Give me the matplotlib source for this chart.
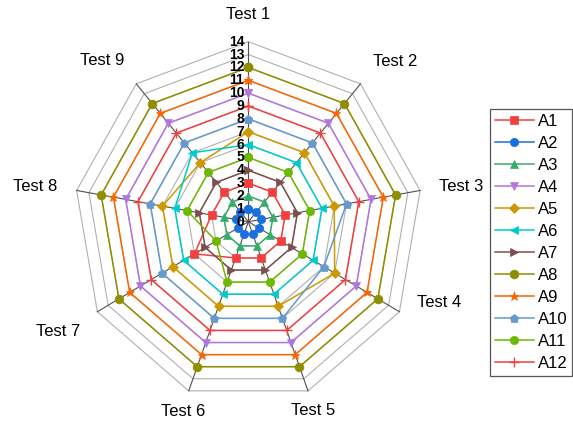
import numpy as np
import matplotlib
matplotlib.use('Agg')
import matplotlib.pyplot as plt

plt.rcParams['font.family'] = ['Liberation Sans', 'DejaVu Sans']

# axis names, clockwise from the top
tests = ['Test 1', 'Test 2', 'Test 3', 'Test 4', 'Test 5',
         'Test 6', 'Test 7', 'Test 8', 'Test 9']

# score of each sample on Test 1..Test 9
A1 = [3, 3, 3, 3, 3, 3, 5, 3, 3]
A2 = [1, 1, 1, 1, 1, 1, 1, 1, 1]
A3 = [2, 2, 2, 2, 2, 2, 2, 2, 2]
A4 = [10, 10, 10, 10, 10, 10, 10, 10, 10]
A5 = [7, 7, 7, 8, 7, 7, 7, 7, 6]
A6 = [6, 6, 6, 6, 6, 6, 6, 6, 7]
A7 = [4, 4, 4, 4, 4, 4, 4, 4, 4]
A8 = [12, 12, 12, 12, 12, 12, 12, 12, 12]
A9 = [11, 11, 11, 11, 11, 11, 11, 11, 11]
A10 = [8, 8, 8, 7, 8, 8, 8, 8, 8]
A11 = [5, 5, 5, 5, 5, 5, 3, 5, 5]
A12 = [9, 9, 9, 9, 9, 9, 9, 9, 9]

series_names = ['A1', 'A2', 'A3', 'A4', 'A5', 'A6',
                'A7', 'A8', 'A9', 'A10', 'A11', 'A12']
series_values = [A1, A2, A3, A4, A5, A6, A7, A8, A9, A10, A11, A12]

# radial scale
r_ticks = list(range(0, 15))
r_max = 14

colors = ['#F14040', '#1A6FDF', '#37AD6B', '#B177DE', '#CC9900', '#00CBCC',
          '#7D4E4E', '#8E8E00', '#FB6501', '#6699CC', '#6FB802', '#F14040']
markers = ['s', 'o', '^', 'v', 'D', '<', '>', 'o', '*', 'p', 'o', '+']
msizes = [5.2, 6, 5.8, 5.8, 4.8, 5.8, 5.8, 6.3, 6.5, 6.3, 6, 7]

n = len(tests)
angles = np.linspace(0, 2 * np.pi, n, endpoint=False)
closed = np.append(angles, angles[0])

fig = plt.figure(figsize=(5.73, 4.32), dpi=100)
ax = fig.add_axes([0.1291, 0.0701, 0.6087, 0.8333], projection='polar')
ax.set_aspect('auto')
ax.set_theta_offset(np.pi / 2)
ax.set_theta_direction(-1)
ax.set_ylim(0, r_max)
ax.grid(False)
ax.set_xticks([])
ax.set_yticks([])
ax.spines['polar'].set_visible(False)
ax.patch.set_visible(False)

# polygon rings and spokes
for r in r_ticks[1:]:
    ax.plot(closed, [r] * (n + 1), color='#b0b0b0', lw=0.8, zorder=1, clip_on=False)
for a in angles:
    ax.plot([a, a], [0, r_max], color='#505050', lw=0.8, zorder=1, clip_on=False)

# data
for name, vals, c, m, ms in zip(series_names, series_values, colors, markers, msizes):
    v = list(vals) + [vals[0]]
    ax.plot(closed, v, color=c, lw=1.1, marker=m, markersize=ms,
            markeredgewidth=1.0 if m == '+' else 0.5,
            markeredgecolor=c, label=name, zorder=3, clip_on=False)

# radial tick labels along Test 1
for t in r_ticks:
    ax.annotate(str(t), xy=(0, t), xytext=(-3, 0), textcoords='offset points',
                ha='right', va='center', fontsize=10, fontweight='bold',
                color='black', zorder=5)

# axis titles
label_theta = [0, 43.3, 81, 112.4, 160.6, 199.6, 240.9, 279, 316.8]
label_r = [16.1, 17.17, 17.27, 16.55, 15.6, 15.63, 17.49, 17.34, 17.15]
for name, th, r in zip(tests, label_theta, label_r):
    ax.text(np.deg2rad(th), r, name, ha='center', va='center', fontsize=12)

leg = ax.legend(loc='upper right', bbox_to_anchor=(0.999, 0.748),
                bbox_transform=fig.transFigure, borderaxespad=0,
                fontsize=12, handlelength=2.3, handletextpad=0.25,
                labelspacing=0.42, borderpad=0.3, fancybox=False,
                framealpha=1, edgecolor='#555555')
leg.get_frame().set_linewidth(0.9)

fig.savefig('out.png', dpi=100)
